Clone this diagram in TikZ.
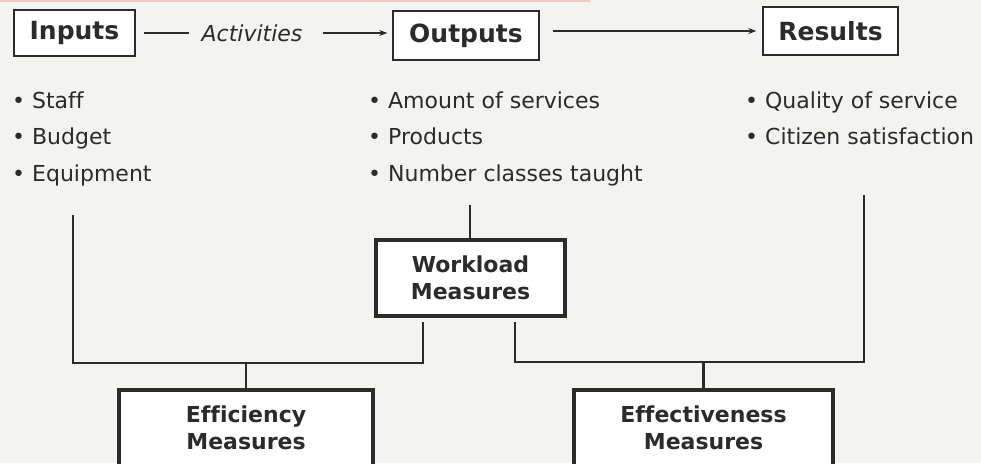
\documentclass[tikz,border=0pt]{standalone}
\usepackage{fontspec}
\setmainfont{DejaVu Sans}[Ligatures=NoCommon]
\usetikzlibrary{arrows.meta}
\definecolor{ink}{RGB}{45,42,42}
\definecolor{paper}{RGB}{243,243,241}
\definecolor{strip}{RGB}{245,200,198}
\tikzset{
  topbox/.style={draw=ink, line width=1.5pt, fill=white, inner sep=0pt, text=ink,
    font=\bfseries\fontsize{25}{28}\selectfont},
  measbox/.style={draw=ink, line width=3.4pt, fill=white, inner sep=0pt, text=ink,
    align=center, font=\bfseries\fontsize{22}{27}\selectfont},
  listitem/.style={anchor=base west, inner sep=0pt, text=ink,
    font=\fontsize{22}{26}\selectfont},
  link/.style={draw=ink, line width=2.2pt},
  flow/.style={draw=ink, line width=1.2pt}
}

\begin{document}
\begin{tikzpicture}[x=1pt, y=-1pt]
			%%%%% START %%%%%
			
			\useasboundingbox (0, 0) rectangle (981, 463);
			\clip (0, 0) rectangle (981, 463);
			\fill[paper] (0, 0) rectangle (981, 463);
			\fill[strip] (0, 0) rectangle (590, 2);
			
			\node[topbox, minimum width=121pt, minimum height=46pt] (inputs) at (74.5, 33) {Inputs};
			\node[inner sep=0pt, text=ink, font=\itshape\fontsize{22}{26}\selectfont] (act) at (252, 33) {Activities};
			\node[topbox, minimum width=146pt, minimum height=49pt] (outputs) at (466, 35.5) {Outputs};
			\node[topbox, minimum width=135pt, minimum height=48pt] (results) at (830.5, 31) {Results};
			
			\draw[flow, shorten <=8pt, shorten >=12pt] (inputs.east |- act) -- (act.west);
			\draw[flow, -{Stealth[length=8pt, width=6pt]}, shorten <=20pt, shorten >=5pt] (act.east) -- (act.east -| outputs.west);
			\draw[flow, -{Stealth[length=8pt, width=6pt]}, shorten <=13pt, shorten >=6pt] (outputs.east |- results) -- (results.west);
			
			\node[listitem] (staff) at (12, 108) {• Staff};
			\node[listitem] (budget) at (12, 144.5) {• Budget};
			\node[listitem] (equip) at (12, 181) {• Equipment};
			
			\node[listitem] (amount) at (368, 108) {• Amount of services};
			\node[listitem] (products) at (368, 144.5) {• Products};
			\node[listitem] (classes) at (368, 181) {• Number classes taught};
			
			\node[listitem] (quality) at (745, 108) {• Quality of service};
			\node[listitem] (citizen) at (745, 144.5) {• Citizen satisfaction};
			
			\node[measbox, minimum width=189pt, minimum height=76pt] (work) at (470.5, 278) {Workload\\Measures};
			\node[measbox, minimum width=254pt, minimum height=76pt] (eff) at (246, 428) {Efficiency\\Measures};
			\node[measbox, minimum width=259pt, minimum height=76pt] (effect) at (703.5, 428) {Effectiveness\\Measures};
			
			\coordinate (wtop) at (470, 205);
			\coordinate (ltop) at (73, 215);
			\coordinate (lcorner) at (423, 363);
			\coordinate (rtop) at (864, 195);
			\coordinate (rcorner) at (515, 362);
			
			\draw[link] (wtop) -- (wtop |- work.north);
			\draw[link, shorten >=4pt] (ltop) |- (lcorner) -- (lcorner |- work.south);
			\draw[link] (eff.north |- lcorner) -- (eff.north);
			\draw[link, shorten >=4pt] (rtop) |- (rcorner) -- (rcorner |- work.south);
			\draw[link] (effect.north |- rcorner) -- (effect.north);
			
			%%%%% END %%%%%
\end{tikzpicture}
\end{document}
